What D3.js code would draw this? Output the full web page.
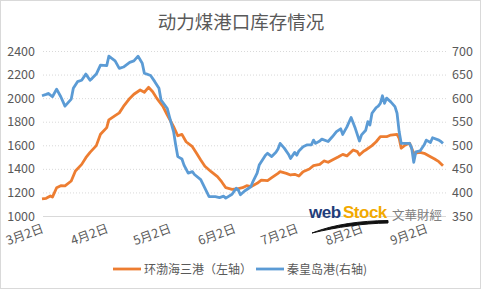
<!DOCTYPE html>
<html><head><meta charset="utf-8">
<script src="https://cdn.jsdelivr.net/npm/d3@7"></script>
<style>
html,body{margin:0;padding:0;background:#fff;}
svg{display:block;font-family:"Noto Sans CJK SC","Noto Sans",sans-serif;}
</style></head>
<body>
<svg id="chart" width="481" height="289"></svg>
<script>
const title = "动力煤港口库存情况";
const seriesNames = ["环渤海三港（左轴）", "秦皇岛港(右轴)"];
const tickDates = ["03-02","04-02","05-02","06-02","07-02","08-02","09-02"];
const tickLabels = ["3月2日","4月2日","5月2日","6月2日","7月2日","8月2日","9月2日"];
const leftTicks = [1000,1200,1400,1600,1800,2000,2200,2400];
const rightTicks = [350,400,450,500,550,600,650,700];

const bohaiDates = ["03-02","03-04","03-06","03-07","03-09","03-11","03-13","03-16","03-18","03-21","03-23","03-25","03-28","03-30",
"04-02","04-03","04-06","04-08","04-10","04-13","04-15","04-18","04-20","04-22","04-24","04-26","04-29",
"05-01","05-04","05-06","05-08","05-10","05-13","05-15","05-17","05-19","05-22","05-25","05-27","05-29",
"06-01","06-03","06-06","06-08","06-10","06-13","06-15","06-18","06-20","06-23","06-24","06-27","06-29",
"07-01","07-03","07-05","07-08","07-10","07-13","07-15","07-17","07-19","07-22","07-24","07-26","07-29","07-31",
"08-01","08-03","08-04","08-07","08-09","08-11","08-14","08-16","08-19","08-20","08-21","08-23","08-25","08-27","08-30",
"09-01","09-04","09-06","09-08","09-10"];
const bohaiValues = [1145,1150,1170,1160,1240,1257,1255,1297,1382,1438,1495,1540,1597,1693,
1750,1815,1851,1875,1930,1998,2033,2069,2050,2092,2055,1998,1927,
1857,1758,1681,1693,1630,1588,1532,1475,1422,1376,1334,1291,1240,
1226,1229,1240,1257,1249,1277,1305,1300,1325,1362,1376,1362,1348,
1354,1339,1376,1399,1427,1438,1467,1456,1475,1503,1523,1510,1560,1546,
1518,1550,1560,1597,1630,1673,1673,1687,1693,1659,1575,1603,1617,1532,1540,
1532,1503,1484,1461,1427];

const qhdDates = ["03-02","03-04","03-05","03-07","03-09","03-11","03-13","03-16","03-17","03-19","03-21","03-23","03-25","03-26","03-28","03-30",
"04-02","04-03","04-06","04-08","04-10","04-13","04-15","04-17","04-19","04-20","04-23","04-25","04-27","04-28",
"05-01","05-02","05-04","05-05","05-06","05-08","05-09","05-11","05-13","05-14","05-17","05-19","05-21","05-24","05-26","05-28","05-29",
"06-01","06-03","06-04","06-05","06-07","06-10","06-11","06-13","06-14","06-17","06-18","06-20","06-22","06-23","06-24","06-26","06-28","06-29",
"07-01","07-02","07-03","07-05","07-07","07-09","07-10","07-11","07-13","07-14","07-17","07-19","07-21","07-23","07-24","07-26","07-28","07-30",
"08-01","08-02","08-04","08-05","08-06","08-07","08-09","08-10","08-11","08-12","08-13","08-14","08-16","08-18","08-19","08-20","08-21","08-23","08-25","08-26","08-27","08-28","08-30",
"09-01","09-02","09-04","09-05","09-08","09-09","09-10"];
const qhdValues = [605,608,610,603,619,603,583,598,621,635,638,651,638,642,651,670,
669,689,679,663,666,676,679,689,674,653,648,635,621,596,
578,561,529,501,476,471,458,441,444,438,427,409,391,391,389,392,388,
396,409,405,395,403,412,423,441,458,479,483,476,485,492,504,494,481,472,
485,479,488,497,501,501,511,504,509,513,508,518,529,535,523,539,559,536,
509,522,532,550,543,568,580,583,589,605,589,600,592,582,568,529,504,504,504,494,464,486,488,
501,511,506,516,511,508,504];

const parse = s => d3.timeParse("%Y-%m-%d")("2017-" + s);
const svg = d3.select("#chart");
const W = 481, H = 289;
const textColor = "#595959";
const orange = "#ED7D31", blue = "#5B9BD5";
const font = '"Noto Sans CJK SC","Noto Sans",sans-serif';

svg.append("rect").attr("x",0.5).attr("y",0.5).attr("width",W-1).attr("height",H-1)
  .attr("fill","#fff").attr("stroke","#d9d9d9");

svg.append("text").attr("x",241).attr("y",29).attr("text-anchor","middle")
  .attr("font-size",18.5).attr("fill",textColor).text(title);

const x = d3.scaleTime().domain([parse("03-02"), parse("09-10")]).range([42, 443]);
const yL = d3.scaleLinear().domain([1000,2400]).range([216,51]);
const yR = d3.scaleLinear().domain([350,700]).range([216,51]);
const gridX0 = 43, gridX1 = 446;

// gridlines
svg.append("g").selectAll("line").data(leftTicks.slice(1)).join("line")
  .attr("x1",gridX0).attr("x2",gridX1)
  .attr("y1",d=>yL(d)+0.5).attr("y2",d=>yL(d)+0.5)
  .attr("stroke","#d9d9d9").attr("stroke-dasharray","1,2");
svg.append("line").attr("x1",gridX0).attr("x2",gridX1)
  .attr("y1",yL(1000)+0.5).attr("y2",yL(1000)+0.5).attr("stroke","#d9d9d9");

// left axis
const axL = svg.append("g").attr("transform","translate(40,0)")
  .call(d3.axisLeft(yL).tickValues(leftTicks).tickSize(0).tickPadding(5).tickFormat(d3.format("d")));
axL.select(".domain").remove();
axL.selectAll("text").attr("font-size",12.5).attr("fill",textColor).attr("font-family",font);

const axR = svg.append("g").attr("transform","translate(449,0)")
  .call(d3.axisRight(yR).tickValues(rightTicks).tickSize(0).tickPadding(3).tickFormat(d3.format("d")));
axR.select(".domain").remove();
axR.selectAll("text").attr("font-size",12.5).attr("fill",textColor).attr("font-family",font);

// x axis labels
const axB = svg.append("g").attr("transform","translate(0,216)")
  .call(d3.axisBottom(x).tickValues(tickDates.map(parse)).tickSize(0)
    .tickFormat((d,i)=>tickLabels[i]));
axB.select(".domain").remove();
axB.selectAll("text").attr("font-size",12.5).attr("fill",textColor).attr("font-family",font)
  .attr("text-anchor","end").attr("dy",0).attr("y",0)
  .attr("transform","translate(2,16) rotate(-20)");

// watermark
const wm = svg.append("g");
wm.append("path").attr("d","M312,233 C335,224 360,221 388,220.5 L388,223 C362,223.5 338,227 312,233 Z")
  .attr("fill","#111").attr("stroke","#111").attr("stroke-width",1);
wm.append("text").attr("x",309).attr("y",218).attr("font-size",17).attr("font-weight","bold")
  .attr("font-family","Arial, Liberation Sans, sans-serif").attr("letter-spacing",-0.5)
  .attr("fill","#1f3d7a").text("web");
wm.append("text").attr("x",343).attr("y",218).attr("font-size",17).attr("font-weight","bold")
  .attr("font-family","Arial, Liberation Sans, sans-serif").attr("letter-spacing",-0.5)
  .attr("fill","#f2a900").text("Stock");
wm.append("text").attr("x",392).attr("y",220).attr("font-size",12.5)
  .attr("fill","#7f7f7f").text("文華財經");

// lines
const lineL = d3.line().x((d,i)=>x(parse(bohaiDates[i]))).y(d=>yL(d));
const lineR = d3.line().x((d,i)=>x(parse(qhdDates[i]))).y(d=>yR(d));
svg.append("path").datum(bohaiValues).attr("d",lineL).attr("fill","none")
  .attr("stroke",orange).attr("stroke-width",2.8).attr("stroke-linejoin","round");
svg.append("path").datum(qhdValues).attr("d",lineR).attr("fill","none")
  .attr("stroke",blue).attr("stroke-width",2.8).attr("stroke-linejoin","round");

// legend
const leg = svg.append("g");
const legItems = [{name:seriesNames[0],color:orange,x:113},{name:seriesNames[1],color:blue,x:256}];
legItems.forEach(it=>{
  leg.append("line").attr("x1",it.x).attr("x2",it.x+28).attr("y1",269).attr("y2",269)
    .attr("stroke",it.color).attr("stroke-width",2.8);
  leg.append("text").attr("x",it.x+31).attr("y",273.5).attr("font-size",12)
    .attr("fill",textColor).text(it.name);
});
</script>
</body></html>
